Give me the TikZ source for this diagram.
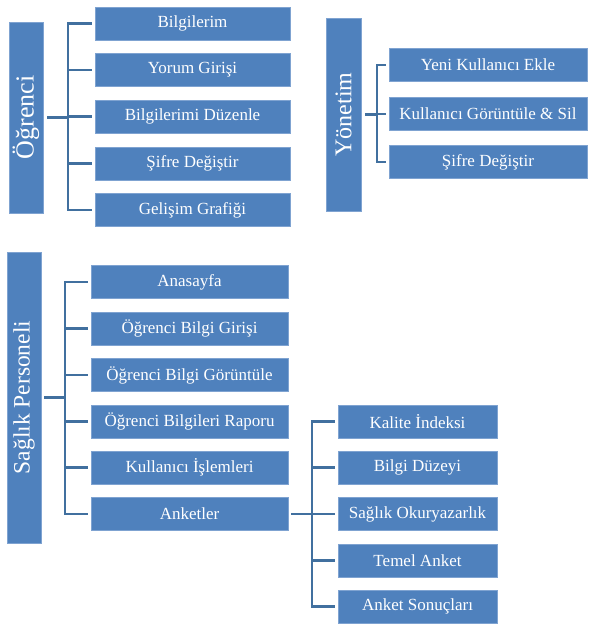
\documentclass[tikz,border=0pt]{standalone}
\usepackage{fontspec}
\setmainfont{Liberation Serif}
\begin{document}
\begin{tikzpicture}[x=1pt,y=-1pt,
  box/.style={draw=boxline,fill=boxfill,line width=0.8pt,text=white,font=\fontsize{17}{19}\selectfont,inner sep=0pt,minimum height=33pt},
  head/.style={draw=boxline,fill=boxfill,line width=0.8pt,text=white,inner sep=0pt,rotate=90},
  conn/.style={draw=connc,line width=2.6pt,line join=miter}]
\definecolor{boxfill}{HTML}{4F81BD}
\definecolor{boxline}{HTML}{7FA3D1}
\definecolor{connc}{HTML}{41709F}
\useasboundingbox[fill=white] (0,0) rectangle (590,627);

% Ogrenci group
\node[head,font=\fontsize{26}{28}\selectfont,minimum width=191pt,minimum height=34pt] (og) at (26,117.5) {Öğrenci};
\foreach \n/\y/\t in {a1/23.5/Bilgilerim,a2/70/Yorum Girişi,a3/116.5/Bilgilerimi Düzenle,a4/163.5/Şifre Değiştir,a5/210/Gelişim Grafiği}
  \node[box,minimum width=195pt] (\n) at (192.5,\y) {\t};
\coordinate (spa) at (68,117.5);
\draw[conn] ([xshift=-3pt]a1.west) -| (spa) |- ([xshift=-3pt]a5.west);
\draw[conn] ([xshift=4pt]og.south |- spa) -- (spa);
\foreach \n in {a2,a3,a4} \draw[conn] (spa |- \n.west) -- ([xshift=-3pt]\n.west);

% Yonetim group
\node[head,font=\fontsize{24}{26}\selectfont,minimum width=193pt,minimum height=35pt] (yo) at (343.5,114.5) {Yönetim};
\foreach \n/\y/\t in {b1/65/Yeni Kullanıcı Ekle,b2/114/Kullanıcı Görüntüle \& Sil,b3/162/Şifre Değiştir}
  \node[box,minimum width=198pt] (\n) at (488,\y) {\t};
\coordinate (spb) at (377,114.5);
\draw[conn] ([xshift=-3pt]b1.west) -| (spb) |- ([xshift=-3pt]b3.west);
\draw[conn] ([xshift=4pt]yo.south |- spb) -- (spb);
\draw[conn] (spb |- b2.west) -- ([xshift=-3pt]b2.west);

% Saglik Personeli group
\node[head,font=\fontsize{23.5}{25}\selectfont,minimum width=291pt,minimum height=34pt] (sp) at (24,397.5) {Sağlık Personeli};
\foreach \n/\y/\t in {c1/282/Anasayfa,c2/328.5/Öğrenci Bilgi Girişi,c3/375/Öğrenci Bilgi Görüntüle,c4/421.5/Öğrenci Bilgileri Raporu,c5/467.5/Kullanıcı İşlemleri,c6/514/Anketler}
  \node[box,minimum width=197pt] (\n) at (189.5,\y) {\t};
\coordinate (spc) at (65,397.5);
\draw[conn] ([xshift=-3pt]c1.west) -| (spc) |- ([xshift=-3pt]c6.west);
\draw[conn] ([xshift=3pt]sp.south |- spc) -- (spc);
\foreach \n in {c2,c3,c4,c5} \draw[conn] (spc |- \n.west) -- ([xshift=-3pt]\n.west);

% Anketler group
\foreach \n/\y/\t in {d1/421.5/Kalite İndeksi,d2/467.5/Bilgi Düzeyi,d3/514/Sağlık Okuryazarlık,d4/560.5/Temel Anket,d5/606.5/Anket Sonuçları}
  \node[box,minimum width=159pt] (\n) at (417.5,\y) {\t};
\coordinate (spd) at (312,514);
\draw[conn] ([xshift=-3pt]d1.west) -| (spd) |- ([xshift=-3pt]d5.west);
\draw[conn] ([xshift=3pt]c6.east) -- (spd);
\foreach \n in {d2,d3,d4} \draw[conn] (spd |- \n.west) -- ([xshift=-3pt]\n.west);
\end{tikzpicture}
\end{document}
